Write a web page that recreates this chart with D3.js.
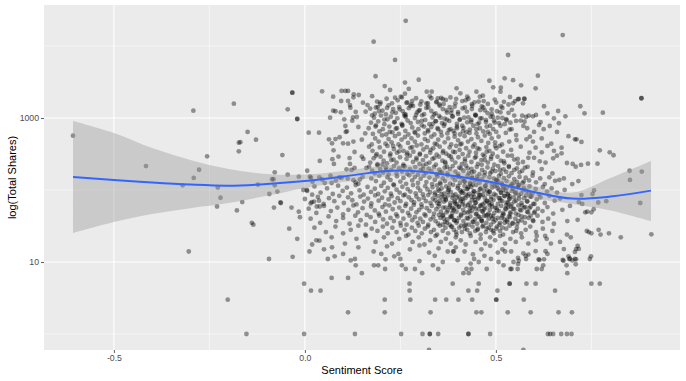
<!DOCTYPE html>
<html><head><meta charset="utf-8">
<script src="https://cdn.jsdelivr.net/npm/d3@7"></script>
<style>body{margin:0;background:#fff}svg{display:block}</style>
</head><body><svg id="c" width="686" height="381"></svg>
<script>
// ---------- DATA ----------
const sentimentTicks = [-0.5, 0, 0.5];
const sentimentMinor = [-0.25, 0.25, 0.75];
const shareTicks = [10, 1000];
const shareMinor = [1, 100, 10000];

// points with negative / near-zero sentiment
const sparsePoints = [[-.607,568],[-.292,1263],[-.186,1580],[-.045,1318],[-.033,2244],[-.02,968],[-.02,968],[-.416,215],[-.256,294],[-.277,191],[-.291,147],[-.32,116],[-.228,108],[-.221,78],[-.23,59],[-.178,52],[-.304,14],[-.173,454],[-.173,344],[-.15,640],[-.169,462],[-.128,500],[-.059,306],[-.164,68],[-.123,119],[-.093,88],[-.079,176],[-.086,141],[-.082,141],[-.079,116],[-.072,95],[-.064,67],[-.081,57],[-.045,163],[-.139,35],[-.135,33],[-.094,11],[-.041,29],[-.063,66],[-.035,57],[-.016,50],[-.013,42],[.01,625],[.037,625],[.039,253],[-.016,153],[.006,185],[.013,153],[.016,148],[-.004,100],[.006,97],[.019,86],[.015,65],[.024,69],[.031,59],[.037,71],[.039,59]];

// top edge and high outliers
const highPoints = [[.264,22400],[.18,11480],[.236,6400],[.185,3800],[.298,3400],[.262,3100],[.532,7500],[.675,14200],[.483,3290],[.523,3560],[.545,3350],[.566,2840],[.61,3870],[.604,2580],[.881,1880],[.881,1880],[.045,2350],[-.033,2244],
[.074,1980],[.096,2375],[.106,2375],[.113,2375],[.128,2135],[.141,2087],[.209,2780],[.223,2450],[.236,1915],[.262,2180],[.272,2530],[.319,2320],[.332,2320],[.348,1875],[.361,1820],[.397,2580],[.407,2200],[.425,1980],[.449,2320],[.458,1980],[.493,2670],[.513,2640],[.512,2320],[.537,1960],[.558,1820],[.575,1840],[.571,1600],[.663,1250]];

// left part of the cloud (sentiment 0.06 - 0.165)
const leftCloud = [[.095,1723],[.113,1723],[.127,1940],[.118,1514],[.119,1390],[.074,1263],[.08,1240],[.094,1200],[.133,1215],[.136,1032],[.124,917],[.126,1022],[.152,1634],[.159,1224],[.164,1514],[.066,1010],[.103,959],[.14,750],[.106,774],[.11,654],[.107,640],[.158,610],[.091,540],[.08,510],[.063,506],[.071,445],[.1,445],[.113,440],[.127,470],[.149,500],[.075,356],[.13,337],[.072,268],[.088,291],[.117,278],[.149,291],[.153,270],[.076,230],[.118,230],[.109,194],[.122,190],[.13,202],[.161,202],[.112,144],[.127,137],[.144,140],[.02,130],[.038,150],[.052,125],[.067,158],[.081,135],[.096,148],[.133,128],[.151,152],[.045,140],[.07,125],[.09,150],[.14,122]];

// right part of the cloud (sentiment > 0.54)
const rightCloud = [[.545,1600],[.55,1720],[.56,1840],[.574,1850],[.626,1455],[.721,1455],[.732,1162],[.78,1185],[.682,1055],[.635,1162],[.586,1078],[.597,1055],[.605,1100],[.569,1078],[.579,1032],[.652,990],[.665,845],[.641,774],[.617,875],[.613,800],[.553,910],[.565,920],[.575,890],[.711,505],[.707,505],[.724,465],[.772,356],[.798,334],[.808,304],[.582,720],[.572,775],[.553,580],[.589,550],[.554,495],[.58,505],[.604,387],[.62,334],[.652,350],[.672,387],[.672,323],[.766,232],[.741,232],[.723,223],[.709,211],[.701,230],[.686,237],[.716,133],[.70,121],[.666,138],[.678,145],[.85,185],[.882,180],[.851,138],[.878,66],[.907,24.2],[.827,22]];

// main cloud, in bands of total shares
const coreHigh = [
[.176,2010],[.189,1690],[.197,1560],[.214,1850],[.228,1600],[.243,1760],[.251,1980],[.266,1620],[.279,1540],[.291,1880],[.305,1700],[.318,1590],[.327,2000],[.344,1650],[.352,1540],[.369,1780],[.381,1930],[.394,1600],[.412,1720],[.428,1850],[.437,1560],[.455,1690],[.466,2040],[.479,1570],[.497,1800],[.521,1680],
[.171,1350],[.183,1150],[.191,1420],[.203,1260],[.212,1120],[.219,1500],[.231,1330],[.238,1180],[.247,1420],[.256,1240],[.264,1110],[.272,1370],[.283,1470],[.294,1200],[.301,1290],[.312,1130],[.323,1410],[.331,1250],[.342,1160],[.353,1480],[.361,1330],[.372,1190],[.384,1290],[.392,1440],[.401,1140],[.413,1360],[.424,1230],[.438,1470],[.446,1110],[.459,1290],[.467,1400],[.478,1170],[.489,1320],[.503,1240],[.514,1450],[.533,1180],[.542,1300],
[.173,860],[.181,1010],[.192,900],[.199,1080],[.208,820],[.216,960],[.225,1040],[.234,870],[.242,990],[.253,830],[.261,1070],[.269,920],[.277,850],[.288,1000],[.296,880],[.307,1090],[.315,940],[.326,820],[.334,1020],[.343,900],[.351,1070],[.359,850],[.366,980],[.378,910],[.387,1050],[.398,830],[.406,960],[.417,1010],[.425,870],[.436,940],[.447,1090],[.452,820],[.463,990],[.474,880],[.486,1040],[.495,920],[.508,850],[.517,1000],[.528,930],[.538,860],
[.167,720],[.178,600],[.186,790],[.195,650],[.204,700],[.213,590],[.221,760],[.229,630],[.238,710],[.246,600],[.255,780],[.263,660],[.271,590],[.281,740],[.289,620],[.297,700],[.306,790],[.314,610],[.322,680],[.331,750],[.339,590],[.347,720],[.356,640],[.364,780],[.373,610],[.381,700],[.389,660],[.398,760],[.406,590],[.415,730],[.423,640],[.432,690],[.441,780],[.449,610],[.458,720],[.467,650],[.476,760],[.484,600],[.493,700],[.501,640],[.512,780],[.526,620],[.541,700],[.6,640],[.625,700],[.66,640]];

const coreMid = [
[.175,430],[.184,520],[.193,470],[.202,575],[.211,440],[.219,510],[.227,460],[.236,560],[.245,430],[.253,500],[.262,545],[.27,450],[.279,520],[.288,470],[.296,570],[.305,430],[.314,510],[.322,480],[.331,550],[.34,440],[.349,500],[.358,570],[.366,460],[.375,520],[.383,430],[.392,550],[.401,490],[.41,440],[.418,560],[.427,470],[.436,510],[.444,430],[.453,540],[.462,480],[.471,570],[.48,450],[.489,520],[.498,460],[.507,550],[.516,430],[.535,470],[.597,470],[.62,520],[.645,440],[.69,560],
[.168,400],[.177,350],[.188,315],[.196,390],[.207,340],[.216,410],[.224,320],[.233,370],[.241,330],[.25,400],[.258,350],[.267,310],[.276,385],[.284,340],[.293,415],[.301,320],[.31,365],[.319,395],[.328,330],[.336,380],[.345,310],[.353,400],[.362,350],[.37,320],[.379,390],[.388,340],[.396,410],[.405,360],[.413,315],[.422,380],[.431,340],[.44,400],[.448,330],[.457,370],[.466,310],[.475,395],[.483,350],[.492,320],[.501,380],[.51,410],[.519,340],[.54,360],[.565,400],[.588,330],[.635,410],[.66,300],
[.171,240],[.18,275],[.19,228],[.198,290],[.206,255],[.215,235],[.223,300],[.232,265],[.24,240],[.249,285],[.258,225],[.266,270],[.275,300],[.283,245],[.292,280],[.3,230],[.309,260],[.317,295],[.326,240],[.334,270],[.343,225],[.351,290],[.36,255],[.368,235],[.377,300],[.385,265],[.394,240],[.402,285],[.411,228],[.419,270],[.428,300],[.436,245],[.445,280],[.453,230],[.462,260],[.47,295],[.479,240],[.487,270],[.496,225],[.504,290],[.513,255],[.522,235],[.531,300],[.548,265],[.558,235],[.571,245],[.585,280],[.6,280],[.615,250],[.63,240],[.65,275],
[.168,210],[.176,185],[.183,170],[.19,220],[.197,195],[.205,175],[.212,205],[.219,165],[.226,190],[.233,215],[.24,170],[.247,200],[.254,180],[.261,212],[.268,168],[.275,195],[.282,178],[.289,208],[.296,163],[.303,188],[.31,218],[.317,173],[.324,198],[.331,182],[.338,210],[.345,166],[.352,192],[.359,176],[.366,205],[.373,170],[.38,195],[.387,215],[.394,180],[.401,165],[.408,200],[.415,185],[.422,218],[.429,172],[.436,196],[.443,180],[.45,210],[.457,166],[.464,190],[.471,175],[.478,206],[.485,170],[.492,198],[.499,183],[.506,215],[.513,168],[.52,193],[.527,178],[.534,208],[.541,171],[.548,190],[.555,200],[.562,176],[.569,185],[.576,205],[.583,210],[.597,175],[.62,195],[.648,170],
[.174,145],[.186,133],[.195,158],[.207,126],[.216,150],[.224,138],[.232,120],[.241,155],[.25,131],[.258,147],[.265,122],[.273,160],[.281,136],[.288,151],[.296,125],[.303,143],[.311,158],[.318,129],[.326,149],[.333,121],[.34,138],[.347,155],[.354,127],[.361,145],[.367,133],[.374,160],[.38,123],[.387,150],[.393,137],[.4,156],[.406,125],[.413,143],[.419,131],[.426,158],[.432,121],[.438,147],[.445,135],[.451,153],[.457,126],[.464,141],[.47,160],[.476,129],[.483,150],[.489,122],[.495,144],[.502,137],[.508,157],[.515,124],[.521,146],[.528,133],[.534,155],[.541,120],[.548,142],[.555,130],[.562,152],[.57,125],[.578,148],[.587,136],[.596,158],[.605,128],[.616,145],[.628,121],[.64,150],[.655,134]];

const coreLow = [
[.005,100],[.025,112],[.041,92],[.058,105],[.073,88],[.087,115],[.099,97],[.11,108],[.121,90],[.133,117],[.143,99],[.154,86],[.164,110],[.173,94],[.183,104],[.192,88],[.2,114],[.209,96],[.217,107],[.225,89],[.233,116],[.24,101],[.248,92],[.255,111],[.262,86],[.269,103],[.276,95],[.283,117],[.29,90],[.296,108],[.302,98],[.309,87],[.315,113],[.321,102],[.328,93],[.334,109],[.34,86],[.346,116],[.352,97],[.358,105],[.364,89],[.37,112],[.376,100],[.382,94],[.388,118],[.394,87],[.4,106],[.406,99],[.412,91],[.418,114],[.424,103],[.43,88],[.436,110],[.442,96],[.448,117],[.454,92],[.46,105],[.466,86],[.472,112],[.478,99],[.484,94],[.49,108],[.496,88],[.502,115],[.508,101],[.514,91],[.52,109],[.526,97],[.532,86],[.538,113],[.545,104],[.552,93],[.559,116],[.566,89],[.573,107],[.58,98],[.588,112],[.596,90],[.604,103],[.613,87],[.623,110],[.634,95],[.646,105],[.66,92],[.68,100],[.724,85],[.753,88],[.757,99],
[.0,75],[.018,68],[.034,80],[.049,64],[.063,77],[.077,70],[.09,83],[.102,66],[.113,79],[.124,72],[.135,63],[.145,81],[.155,69],[.165,76],[.174,65],[.184,84],[.193,71],[.202,78],[.21,63],[.219,74],[.227,82],[.235,67],[.243,77],[.25,70],[.258,84],[.265,64],[.272,79],[.279,72],[.286,67],[.292,81],[.299,74],[.305,63],[.311,78],[.317,70],[.323,85],[.329,66],[.335,76],[.341,72],[.347,82],[.352,64],[.358,79],[.364,69],[.369,75],[.375,84],[.381,66],[.386,78],[.392,71],[.398,63],[.403,81],[.409,74],[.414,68],[.42,77],[.426,83],[.431,65],[.437,72],[.443,80],[.448,67],[.454,76],[.46,84],[.465,63],[.471,78],[.477,70],[.482,66],[.488,81],[.494,73],[.5,84],[.505,64],[.511,77],[.517,70],[.523,82],[.529,67],[.535,75],[.541,63],[.547,79],[.553,71],[.56,84],[.567,66],[.574,77],[.582,69],[.59,81],[.598,64],[.607,74],[.617,79],[.628,66],[.64,83],[.654,71],[.668,76],[.717,68],[.726,64],[.768,67],[.789,70],
[.01,55],[.03,48],[.05,60],[.068,51],[.085,57],[.1,46],[.114,53],[.127,61],[.139,49],[.151,56],[.162,45],[.173,59],[.183,52],[.193,47],[.203,58],[.212,50],[.221,61],[.23,54],[.239,46],[.247,57],[.255,51],[.263,60],[.27,48],[.278,55],[.285,62],[.292,49],[.299,53],[.306,58],[.313,46],[.319,56],[.326,51],[.332,60],[.338,47],[.344,54],[.35,59],[.356,50],[.362,45],[.368,57],[.374,52],[.38,61],[.386,48],[.391,55],[.397,50],[.403,58],[.409,46],[.414,53],[.42,60],[.426,49],[.432,56],[.437,51],[.443,59],[.449,47],[.455,54],[.461,61],[.466,50],[.472,57],[.478,45],[.484,53],[.49,59],[.496,48],[.502,56],[.508,51],[.514,60],[.52,46],[.526,54],[.532,58],[.538,49],[.545,55],[.552,47],[.559,61],[.566,52],[.574,57],[.582,50],[.591,59],[.6,48],[.61,55],[.622,51],[.635,58],[.65,47],[.739,50],[.734,49],[.75,49],[.756,54],[.674,53],[.694,60],
[.015,40],[.04,35],[.062,43],[.082,37],[.1,41],[.117,34],[.132,44],[.146,38],[.16,33],[.172,42],[.184,36],[.195,44],[.205,39],[.215,34],[.224,41],[.233,37],[.242,43],[.25,35],[.258,40],[.266,33],[.274,44],[.281,38],[.288,42],[.295,35],[.302,40],[.309,36],[.316,44],[.323,33],[.329,39],[.336,42],[.342,37],[.349,34],[.355,41],[.361,44],[.367,36],[.373,39],[.379,33],[.385,43],[.391,38],[.397,35],[.403,41],[.409,44],[.415,37],[.421,33],[.427,40],[.433,43],[.439,36],[.445,39],[.451,34],[.457,42],[.463,37],[.469,44],[.475,35],[.481,40],[.487,33],[.493,43],[.499,38],[.505,41],[.511,35],[.517,44],[.523,39],[.53,36],[.537,42],[.544,34],[.551,40],[.559,37],[.567,43],[.576,35],[.586,41],[.597,38],[.609,44],[.622,36],[.637,40],[.652,34],[.687,37],[.714,38.5],
[.025,30],[.055,26],[.08,31],[.1,25],[.12,28],[.14,32],[.158,24],[.175,29],[.19,27],[.204,31],[.217,25],[.229,30],[.24,26],[.251,32],[.261,28],[.271,24],[.28,30],[.289,27],[.298,32],[.306,25],[.314,29],[.322,31],[.33,26],[.338,28],[.346,24],[.353,32],[.361,27],[.368,30],[.375,25],[.383,31],[.39,28],[.397,24],[.404,30],[.411,26],[.418,32],[.425,28],[.432,25],[.439,31],[.446,27],[.453,29],[.46,24],[.467,32],[.474,26],[.481,30],[.488,28],[.495,25],[.503,31],[.511,27],[.519,24],[.527,29],[.536,32],[.545,26],[.555,30],[.566,25],[.578,28],[.59,31],[.605,26],[.623,29],[.648,27],[.738,27],[.743,26],[.75,25],[.774,24],[.796,25],[.769,28],
[.03,20],[.07,22],[.105,18],[.135,21],[.16,23],[.185,19],[.207,22],[.228,18],[.247,21],[.265,23],[.282,19],[.298,22],[.313,17.5],[.328,20],[.342,23],[.356,19],[.369,21],[.382,18],[.395,22],[.408,20],[.421,17.5],[.434,23],[.447,19],[.46,21],[.472,18],[.485,22],[.498,20],[.511,23],[.524,18],[.538,21],[.552,19],[.568,22],[.585,18],[.605,20],[.629,23],[.633,21],[.644,18],[.668,19],[.696,22],[.686,24],[.607,23],[-.02,21],
[.05,15],[.1,13],[.14,16],[.18,14],[.2,13],[.215,16.5],[.245,13],[.275,15],[.3,17],[.325,13.5],[.35,15.5],[.39,14],[.395,16],[.418,14],[.44,12.8],[.462,15],[.485,16.8],[.505,13.5],[.54,14],[.572,13.2],[.578,12.2],[.604,14.1],[.63,14.1],[.635,13],[.678,15.1],[.71,15.1],[.717,15.2],[.714,16.7],[.707,13.8],[.749,12],
[.06,11],[.12,10.5],[.25,11],[.3,10.3],[.34,12.2],[.4,10.6],[.47,12.2],[.546,10],[.558,11.4],[.56,10.4],[.626,10.9],[.612,10.9],[.69,12],[.694,11.1],[.677,10.4],[.7,10.5],[.71,10.9],[.746,11]];

// extra density in the darkest part of the cloud
const denseCore = [[.412,63],[.355,121],[.487,44],[.531,88],[.398,37],[.452,142],[.577,58],[.366,79],[.509,33],[.443,96],[.389,52],[.561,118],[.476,71],[.419,29],[.538,47],[.347,66],[.505,134],[.462,39],[.593,81],[.428,110],[.381,43],[.548,69],[.493,27],[.436,58],[.519,101],[.372,35],[.584,49],[.457,85],[.404,151],[.527,62],[.341,92],[.469,54],[.556,34],[.414,76],[.497,113],[.385,31],[.542,97],[.448,46],[.601,64],[.433,127],[.362,57],[.515,41],[.479,89],[.392,68],[.567,38],[.426,104],[.503,52],[.351,45],[.536,76],[.465,31],[.409,93],[.588,56],[.441,36],[.522,83],[.377,107],[.484,61],[.553,27],[.418,48],[.501,138],[.369,72],[.571,99],[.446,66],[.396,26],[.534,43],[.473,115],[.358,87],[.512,71],[.429,33],[.579,84],[.491,40],[.403,59],[.546,124],[.455,79],[.383,42],[.525,55],[.437,148],[.598,37],[.464,51],[.349,102],[.517,30],[.421,86],[.559,45],[.483,95],[.394,64],[.539,59],[.452,28],[.508,77],[.371,49],[.582,70],[.439,119],[.494,36],[.414,97],[.563,53],[.471,67],[.388,84],[.529,38],[.447,55],[.505,105],[.361,33],[.551,90],[.424,41],[.487,74],[.573,131],[.407,70],[.519,48],[.458,102],[.379,58],[.544,35],[.436,81],[.498,57],[.591,44],[.463,37],[.401,113],[.532,66],[.476,29],[.353,71],[.557,109],[.431,50],[.513,92],[.392,38],[.568,61],[.481,47],[.417,132],[.536,82],[.454,43],[.374,95],[.523,35],[.445,73],[.587,92],[.469,98],[.409,32],[.548,54],[.489,64],[.364,40],[.516,118],[.427,62],[.576,42],[.501,29],[.441,89],[.386,56],[.561,76],[.474,44],[.398,78],[.528,108],[.459,60],[.602,50]];

// extra density in the upper lobe and middle of the cloud
const upperDense = [[.215,1380],[.342,905],[.468,1720],[.287,640],[.401,1210],[.523,820],[.176,1090],[.363,1560],[.449,700],[.254,1930],[.312,760],[.489,1150],[.396,1840],[.235,880],[.431,620],[.517,1380],[.298,1260],[.377,680],[.459,990],[.198,1650],[.338,1120],[.412,780],[.276,1480],[.505,1010],[.357,1900],[.241,720],[.437,1330],[.322,1590],[.479,640],[.386,1050],[.264,1030],[.421,1760],[.533,1540],[.306,910],[.185,760],[.447,1080],[.371,1280],[.497,860],[.229,1200],[.349,700],[.463,1450],[.281,1730],[.405,940],[.536,690],[.318,1380],[.392,610],[.255,800],[.471,1280],[.331,1880],[.208,950],[.428,1020],[.366,830],[.512,1200],[.291,1100],[.444,1650],[.379,1420],[.248,1320],[.485,780],[.323,650],[.419,1400],[.194,1240],[.355,1010],[.474,940],[.268,1650],[.398,720],[.527,960],[.345,1690],[.222,640],[.456,860],[.302,1540],[.383,1170],[.435,880],[.261,1130],[.501,1640],[.335,830],[.414,650],[.186,1400],[.492,1040],[.372,950],[.548,1080]];
const midDense = [[.231,410],[.367,245],[.452,380],[.309,195],[.488,290],[.268,330],[.404,205],[.521,250],[.186,300],[.345,430],[.437,175],[.292,265],[.476,340],[.382,290],[.213,190],[.511,190],[.329,360],[.419,250],[.257,215],[.463,225],[.354,175],[.498,410],[.281,395],[.393,335],[.542,300],[.226,260],[.448,290],[.318,230],[.407,430],[.534,215],[.247,345],[.372,210],[.489,180],[.301,310],[.426,200],[.557,270],[.361,330],[.471,260],[.203,225],[.339,280]];

// low share counts (integer rows)
const lowPoints = [[-.032,11.8],[.012,14],[.019,17.5],[.038,19.8],[.071,16],[.078,12],[.131,11],[.133,9],[.149,7],[.113,6],[.07,6],[-.002,5],[.016,4],[.041,4],[-.202,3],[.113,2],[-.153,1],[-.002,1],[.131,1],
[.211,10.9],[.234,12],[.254,9],[.264,8],[.288,8],[.307,7],[.335,9],[.349,8],[.361,10],[.429,7],[.436,8],[.455,10],[.476,8],[.487,11],[.52,9],[.538,8],[.181,9],[.192,9],[.21,8],
[.374,14],[.388,14],[.415,7],[.423,8],[.434,9.5],[.443,11],[.507,10],[.517,15],[.524,14],[.541,8],[.557,8],[.558,9.4],[.579,11],[.585,12.7],[.614,10.7],[.624,9],[.607,8],[.62,8],[.675,10.7],[.687,7],[.692,11],[.707,11],[.709,9.3],[.685,9],
[.274,5],[.387,5],[.455,5],[.536,5],[.536,5],[.58,5],[.604,5],[.75,5],[.772,5],
[.274,4],[.428,4],[.451,4],[.504,4],[.655,4],
[.209,3],[.276,3],[.341,3],[.37,3],[.402,3],[.438,3],[.501,3],[.501,3],[.573,3],
[.209,2],[.329,2],[.449,2],[.462,2],[.531,2],[.591,2],[.664,2],[.699,2],
[.252,1],[.308,1],[.327,1],[.327,1],[.349,1],[.428,1],[.428,1],[.485,1],[.636,1],[.642,1],[.65,1],[.671,1],[.686,1],[.698,1],
[.325,.6],[.572,.6]];

// loess smooth with confidence band
const smoothX    = [-0.607,-0.5,-0.4,-0.3,-0.2,-0.1,0,0.1,0.2,0.25,0.3,0.4,0.5,0.6,0.7,0.8,0.906];
const smoothFit  = [152,138,127,119,115,121,133,154,181,187,181,154,125,94,76,81,98];
const smoothLow  = [25.3,36,46.4,56,66,83,107,129,152,156,152,129,103,77,64,52,37];
const smoothHigh = [908,619,383,261,196,167,164,184,215,222,215,184,152,114,92,147,253];

// ---------- DRAW ----------
const svg = d3.select('#c');
const PL=44, PR=680, PT=5, PB=350;
const x = d3.scaleLinear().domain([-0.683, 0.982]).range([PL, PR]);
const y = d3.scaleLog().domain([Math.pow(10,-0.2222), Math.pow(10,4.5694)]).range([PB, PT]);

svg.append('rect').attr('x',PL).attr('y',PT).attr('width',PR-PL).attr('height',PB-PT).attr('fill','#EBEBEB');

const grid = svg.append('g');
grid.selectAll('.xm').data(sentimentMinor).join('line').attr('x1',d=>x(d)).attr('x2',d=>x(d)).attr('y1',PT).attr('y2',PB).attr('stroke','#fff').attr('stroke-width',0.55);
grid.selectAll('.ym').data(shareMinor).join('line').attr('y1',d=>y(d)).attr('y2',d=>y(d)).attr('x1',PL).attr('x2',PR).attr('stroke','#fff').attr('stroke-width',0.55);
grid.selectAll('.xM').data(sentimentTicks).join('line').attr('x1',d=>x(d)).attr('x2',d=>x(d)).attr('y1',PT).attr('y2',PB).attr('stroke','#fff').attr('stroke-width',1.1);
grid.selectAll('.yM').data(shareTicks).join('line').attr('y1',d=>y(d)).attr('y2',d=>y(d)).attr('x1',PL).attr('x2',PR).attr('stroke','#fff').attr('stroke-width',1.1);

svg.append('clipPath').attr('id','clip').append('rect').attr('x',PL).attr('y',PT).attr('width',PR-PL).attr('height',PB-PT);
const plot = svg.append('g').attr('clip-path','url(#clip)');

const allPoints = [].concat(sparsePoints, highPoints, leftCloud, rightCloud, coreHigh, coreMid, coreLow, denseCore, upperDense, midDense, lowPoints);
plot.append('g').selectAll('circle').data(allPoints).join('circle')
  .attr('cx',d=>x(d[0])).attr('cy',d=>y(d[1])).attr('r',2.4)
  .attr('fill','#000').attr('fill-opacity',0.4);

const sm = smoothX.map((v,i)=>({x:v, fit:smoothFit[i], lo:smoothLow[i], hi:smoothHigh[i]}));
const curve = d3.curveCatmullRom.alpha(0.5);
plot.append('path').datum(sm)
  .attr('d', d3.area().x(d=>x(d.x)).y0(d=>y(d.lo)).y1(d=>y(d.hi)).curve(curve))
  .attr('fill','#999999').attr('fill-opacity',0.4);
plot.append('path').datum(sm)
  .attr('d', d3.line().x(d=>x(d.x)).y(d=>y(d.fit)).curve(curve))
  .attr('fill','none').attr('stroke','#3366FF').attr('stroke-width',2);

// axes
const xAxis = svg.append('g').attr('transform',`translate(0,${PB})`)
  .call(d3.axisBottom(x).tickValues(sentimentTicks).tickSize(3).tickPadding(2).tickFormat(d=>d.toFixed(1)));
const yAxis = svg.append('g').attr('transform',`translate(${PL},0)`)
  .call(d3.axisLeft(y).tickValues(shareTicks).tickSize(3).tickPadding(2).tickFormat(d=>String(d)));
[xAxis,yAxis].forEach(a=>{
  a.select('.domain').remove();
  a.selectAll('line').attr('stroke','#333333').attr('stroke-width',0.8);
  a.selectAll('text').attr('fill','#4D4D4D').style('font-family','"Liberation Sans", Arial, sans-serif').style('font-size','8.7px');
});

svg.append('text').attr('x',(PL+PR)/2).attr('y',374).attr('text-anchor','middle')
  .style('font-family','"Liberation Sans", Arial, sans-serif').style('font-size','11px').attr('fill','#000')
  .text('Sentiment Score');
svg.append('text').attr('transform',`translate(16,${(PT+PB)/2}) rotate(-90)`).attr('text-anchor','middle')
  .style('font-family','"Liberation Sans", Arial, sans-serif').style('font-size','11px').attr('fill','#000')
  .text('log(Total Shares)');
</script>
</body></html>
